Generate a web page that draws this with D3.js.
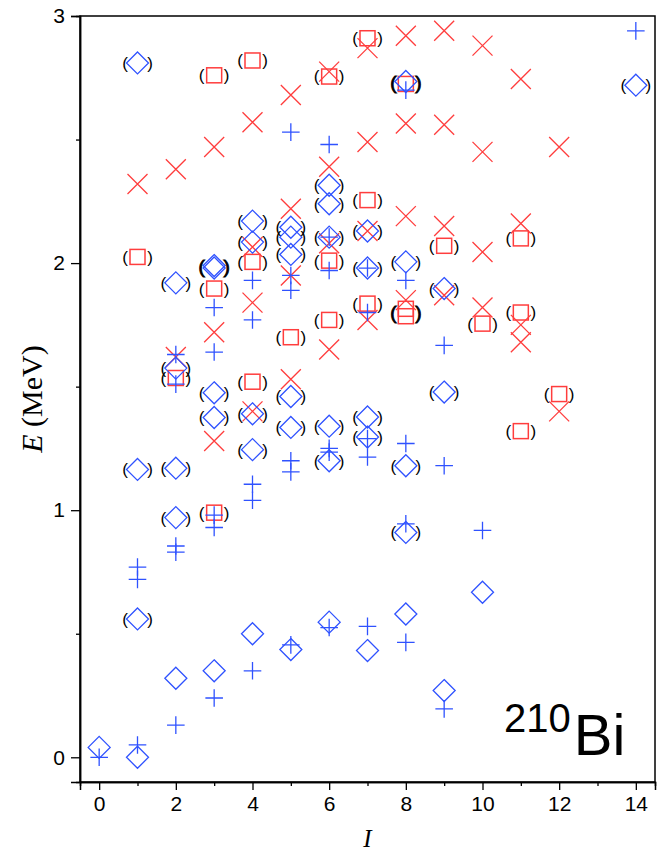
<!DOCTYPE html>
<html>
<head>
<meta charset="utf-8">
<script src="https://cdn.jsdelivr.net/npm/d3@7"></script>
<style>
  html, body { margin: 0; padding: 0; background: #fff; }
  svg { display: block; }
</style>
</head>
<body>
<svg id="chart" width="670" height="848"></svg>
<script>
// Level energies of 210Bi: E (MeV) against spin I.
// Blue "+" and blue diamonds, red crosses and red squares; a flag of 1 puts the level in parentheses.
const plusLevels = [
  [0,0.00],[1,0.05],[1,0.72],[1,0.77],[2,0.13],[2,0.83],[2,0.855],[2,1.51],[2,1.63],
  [3,0.24],[3,0.93],[3,0.98],[3,1.64],[3,1.82],[4,0.35],[4,1.04],[4,1.105],[4,1.77],[4,1.93],
  [5,0.455],[5,1.155],[5,1.20],[5,1.89],[5,1.95],[5,2.53],[6,0.525],[6,1.235],[6,1.25],[6,1.97],
  [6,2.105],[6,2.48],[7,0.53],[7,1.215],[7,1.29],[7,1.80],[7,1.98],[8,0.465],[8,0.945],[8,1.27],
  [8,1.93],[8,2.70],[9,0.196],[9,1.18],[9,1.667],[10,0.918],[14,2.94]
];
const diamondLevels = [
  [0,0.04,0],[1,0.00,0],[1,0.56,1],[1,1.165,1],[1,2.81,1],[2,0.32,0],[2,0.97,1],[2,1.17,1],
  [2,1.575,1],[2,1.92,1],[3,0.35,0],[3,1.375,1],[3,1.475,1],[3,1.98,1],[3,1.99,1],[4,0.50,0],
  [4,1.245,1],[4,1.39,1],[4,2.085,1],[4,2.17,1],[5,0.436,0],[5,1.335,1],[5,1.46,1],[5,2.035,1],
  [5,2.105,1],[5,2.145,1],[6,0.547,0],[6,1.20,1],[6,1.34,1],[6,2.105,1],[6,2.24,1],[6,2.315,1],
  [7,0.432,0],[7,1.296,1],[7,1.377,1],[7,1.98,1],[7,2.13,1],[8,0.58,0],[8,0.91,1],[8,1.18,1],
  [8,2.005,1],[8,2.735,1],[9,0.27,0],[9,1.478,1],[9,1.897,1],[10,0.668,0],[14,2.72,1]
];
const crossLevels = [
  [1,2.32],[2,1.62],[2,2.38],[3,1.28],[3,1.72],[3,2.47],[4,1.40],[4,1.84],[4,2.065],[4,2.57],
  [5,1.53],[5,1.95],[5,2.22],[5,2.68],[6,1.65],[6,2.08],[6,2.39],[6,2.775],[7,1.77],[7,2.13],
  [7,2.49],[7,2.87],[8,1.85],[8,2.19],[8,2.565],[8,2.92],[9,1.87],[9,2.15],[9,2.56],[9,2.94],
  [10,1.82],[10,2.045],[10,2.45],[10,2.88],[11,1.68],[11,1.75],[11,2.16],[11,2.745],[12,1.40],[12,2.47]
];
const squareLevels = [
  [1,2.025,1],[2,1.535,1],[3,0.99,1],[3,1.897,1],[3,2.76,1],[4,1.52,1],[4,2.005,1],[4,2.82,1],
  [5,1.70,1],[6,1.77,1],[6,2.01,1],[6,2.755,1],[7,1.836,1],[7,2.255,1],[7,2.91,1],[8,1.785,1],
  [8,1.815,1],[8,2.725,1],[9,2.07,1],[10,1.755,1],[11,1.32,1],[11,1.80,1],[11,2.10,1],[12,1.47,1]
];
const xMajorTicks = [0, 2, 4, 6, 8, 10, 12, 14];
const xMinorTicks = [1, 3, 5, 7, 9, 11, 13];
const yMajorTicks = [0, 1, 2, 3];
const yMinorTicks = [0.5, 1.5, 2.5];

const BLUE = "#2f52ff";
const RED = "#ff3d3d";

const svg = d3.select("#chart");
const plotLeft = 80, plotRight = 655, plotTop = 16, plotBottom = 782;

const x = d3.scaleLinear().domain([-0.5, 14.5]).range([plotLeft, plotRight]);
const y = d3.scaleLinear().domain([-0.1, 3]).range([plotBottom, plotTop]);

// Frame
svg.append("rect")
  .attr("x", plotLeft).attr("y", plotTop)
  .attr("width", plotRight - plotLeft).attr("height", plotBottom - plotTop)
  .attr("fill", "none").attr("stroke", "#000").attr("stroke-width", 1.5);

// Axes
const axisFont = "'Liberation Sans', Arial, sans-serif";
svg.append("g").attr("transform", `translate(0,${plotBottom})`)
  .call(d3.axisBottom(x).tickValues(xMajorTicks).tickSize(8).tickPadding(6).tickFormat(d3.format("d")));
svg.append("g").attr("transform", `translate(0,${plotBottom})`)
  .call(d3.axisBottom(x).tickValues(xMinorTicks).tickSize(4).tickFormat(""));
svg.append("g").attr("transform", `translate(${plotLeft},0)`)
  .call(d3.axisLeft(y).tickValues(yMajorTicks).tickSize(9).tickPadding(6).tickFormat(d3.format("d")));
svg.append("g").attr("transform", `translate(${plotLeft},0)`)
  .call(d3.axisLeft(y).tickValues(yMinorTicks).tickSize(4).tickFormat(""));
svg.selectAll(".domain").attr("stroke", "#000").attr("stroke-width", 1.5);
svg.selectAll(".tick line").attr("stroke", "#000").attr("stroke-width", 1.3);
svg.selectAll(".tick text").attr("font-family", axisFont).attr("font-size", 21).attr("fill", "#000");

// Axis titles
svg.append("text")
  .attr("x", (plotLeft + plotRight) / 2).attr("y", 847)
  .attr("text-anchor", "middle")
  .attr("font-family", "'Liberation Serif', 'Times New Roman', serif")
  .attr("font-style", "italic").attr("font-size", 25)
  .text("I");

const yTitle = svg.append("text")
  .attr("transform", `translate(42,${(plotTop + plotBottom) / 2}) rotate(-90)`)
  .attr("text-anchor", "middle")
  .attr("font-family", "'Liberation Serif', 'Times New Roman', serif")
  .attr("font-size", 30);
yTitle.append("tspan").attr("font-style", "italic").text("E");
yTitle.append("tspan").text(" (MeV)");

// Markers
const plot = svg.append("g");

plot.selectAll("path.cross").data(crossLevels).join("path")
  .attr("class", "cross")
  .attr("d", d => {
    const cx = x(d[0]), cy = y(d[1]), h = 10;
    return `M${cx - h},${cy - h}L${cx + h},${cy + h}M${cx - h},${cy + h}L${cx + h},${cy - h}`;
  })
  .attr("fill", "none").attr("stroke", RED).attr("stroke-width", 1.3);

plot.selectAll("rect.square").data(squareLevels).join("rect")
  .attr("class", "square")
  .attr("x", d => x(d[0]) - 7.5).attr("y", d => y(d[1]) - 7.5)
  .attr("width", 15).attr("height", 15)
  .attr("fill", "none").attr("stroke", RED).attr("stroke-width", 1.5);

plot.selectAll("path.diamond").data(diamondLevels).join("path")
  .attr("class", "diamond")
  .attr("d", d => {
    const cx = x(d[0]), cy = y(d[1]), h = 11;
    return `M${cx},${cy - h}L${cx + h},${cy}L${cx},${cy + h}L${cx - h},${cy}Z`;
  })
  .attr("fill", "none").attr("stroke", BLUE).attr("stroke-width", 1.3);

plot.selectAll("path.plus").data(plusLevels).join("path")
  .attr("class", "plus")
  .attr("d", d => {
    const cx = x(d[0]), cy = y(d[1]), h = 8.8;
    return `M${cx - h},${cy}L${cx + h},${cy}M${cx},${cy - h}L${cx},${cy + h}`;
  })
  .attr("fill", "none").attr("stroke", BLUE).attr("stroke-width", 1.3);

// Parentheses around tentative levels; near-coincident levels share one heavier pair
const tentative = diamondLevels.concat(squareLevels)
  .filter(d => d[2] === 1)
  .sort((a, b) => a[0] - b[0] || a[1] - b[1]);
const parenGroups = [];
tentative.forEach(d => {
  const g = parenGroups[parenGroups.length - 1];
  if (g && g.i === d[0] && d[1] - g.last < 0.035) {
    g.items.push(d[1]); g.last = d[1];
  } else {
    parenGroups.push({ i: d[0], items: [d[1]], last: d[1] });
  }
});
const parens = plot.selectAll("g.paren").data(parenGroups).join("g")
  .attr("class", "paren")
  .attr("transform", g => `translate(${x(g.i)},${y(d3.mean(g.items))})`);
parens.append("text").attr("x", -12.5).text("(");
parens.append("text").attr("x", 12.5).text(")");
parens.selectAll("text")
  .attr("text-anchor", "middle").attr("dy", "0.35em")
  .attr("font-family", "'Liberation Sans', Arial, sans-serif")
  .attr("font-size", function() { return d3.select(this.parentNode).datum().items.length > 1 ? 19 : 17; })
  .attr("stroke", "#000")
  .attr("stroke-width", function() { return d3.select(this.parentNode).datum().items.length > 1 ? 0.9 : 0; })
  .attr("fill", "#000");

// Nucleus label
const label = svg.append("text")
  .attr("x", 504).attr("y", 755)
  .attr("font-family", "'Liberation Sans', Arial, sans-serif")
  .attr("fill", "#000");
label.append("tspan").attr("font-size", 40).attr("dy", -23).text("210");
label.append("tspan").attr("font-size", 58).attr("dx", 3).attr("dy", 23).text("Bi");
</script>
</body>
</html>
